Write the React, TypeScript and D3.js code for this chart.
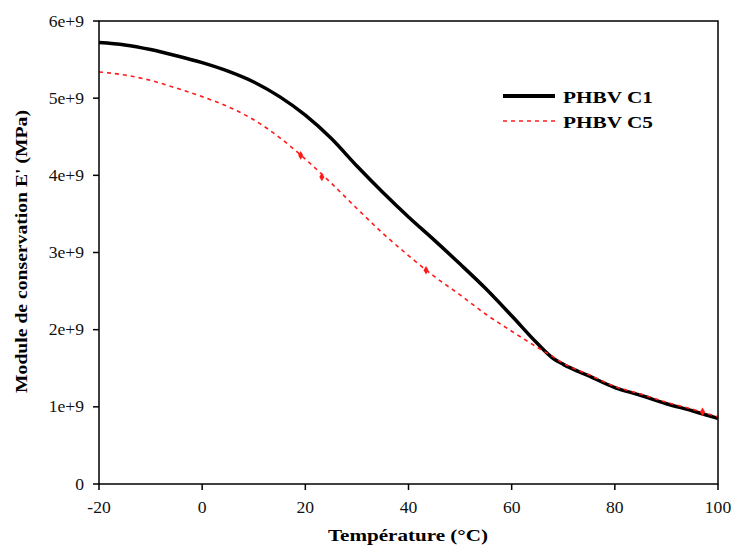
import React from "react";
import * as d3 from "d3";

const temps = [-20, -15, -10, -5, 0, 5, 10, 15, 20, 25, 30, 35, 40, 45, 50, 55, 60, 65, 68, 70, 75, 80, 85, 90, 95, 100];
const c1Values = [5.72, 5.69, 5.63, 5.55, 5.46, 5.35, 5.21, 5.02, 4.78, 4.48, 4.12, 3.78, 3.46, 3.16, 2.85, 2.53, 2.18, 1.82, 1.63, 1.55, 1.4, 1.25, 1.15, 1.04, 0.95, 0.85];
const c5Values = [5.34, 5.3, 5.23, 5.13, 5.02, 4.89, 4.72, 4.49, 4.21, 3.9, 3.57, 3.25, 2.96, 2.69, 2.45, 2.2, 1.98, 1.77, 1.65, 1.565, 1.415, 1.265, 1.165, 1.06, 0.97, 0.87];
const c5MarkerTemps = [19.1, 23.2, 43.4, 97];
const c5MarkerValues = [4.26, 3.98, 2.77, 0.935];
const xTicks = [-20, 0, 20, 40, 60, 80, 100];
const yTicks = [0, 1, 2, 3, 4, 5, 6];
const yTickLabels = ["0", "1e+9", "2e+9", "3e+9", "4e+9", "5e+9", "6e+9"];
const seriesNames = ["PHBV C1", "PHBV C5"];

export default function App() {
  const W = 731, H = 554;
  const x = d3.scaleLinear().domain([-20, 100]).range([99, 718]);
  const y = d3.scaleLinear().domain([0, 6]).range([484, 21]);
  const line = d3
    .line<number>()
    .x((_, i) => x(temps[i]))
    .curve(d3.curveMonotoneX);
  const p1 = line.y((v) => y(v))(c1Values) || "";
  const p5 = line.y((v) => y(v))(c5Values) || "";
  const diamond = d3.symbol().type(d3.symbolDiamond).size(22)() || "";
  const font = "'Liberation Serif', 'Times New Roman', serif";
  return (
    <svg width={W} height={H} style={{ position: "absolute", left: 0, top: 0, background: "#fff" }}>
      <rect x={0} y={0} width={W} height={H} fill="#fff" />
      <path d={p1} fill="none" stroke="#000" strokeWidth={3.5} strokeLinejoin="round" />
      <path d={p5} fill="none" stroke="#ff1a1a" strokeWidth={1.6} strokeDasharray="4,4" />
      {c5MarkerTemps.map((t, i) => (
        <path key={i} d={diamond} transform={`translate(${x(t)},${y(c5MarkerValues[i])})`} fill="#ff1a1a" />
      ))}
      <rect x={99} y={21} width={619} height={463} fill="none" stroke="#000" strokeWidth={1.5} />
      {xTicks.map((t) => (
        <g key={t}>
          <line x1={x(t)} x2={x(t)} y1={484} y2={490} stroke="#000" strokeWidth={1.5} />
          <text transform={`translate(${x(t)},513) scale(1.1,1)`} textAnchor="middle" fontFamily={font} fontSize={16} fill="#111">
            {t}
          </text>
        </g>
      ))}
      {yTicks.map((t, i) => (
        <g key={t}>
          <line x1={93} x2={99} y1={y(t)} y2={y(t)} stroke="#000" strokeWidth={1.5} />
          <text transform={`translate(84,${y(t) + 5.5}) scale(1.1,1)`} textAnchor="end" fontFamily={font} fontSize={16} fill="#111">
            {yTickLabels[i]}
          </text>
        </g>
      ))}
      <text x={408} y={541} textAnchor="middle" fontFamily={font} fontSize={16} fontWeight="bold" textLength={160} lengthAdjust="spacingAndGlyphs">
        Température (°C)
      </text>
      <text transform="translate(27,251.5) rotate(-90)" textAnchor="middle" fontFamily={font} fontSize={16} fontWeight="bold" textLength={283} lengthAdjust="spacingAndGlyphs">
        Module de conservation E' (MPa)
      </text>
      <line x1={503} x2={555} y1={96} y2={96} stroke="#000" strokeWidth={4} />
      <text x={563} y={103} fontFamily={font} fontSize={17} fontWeight="bold" textLength={90} lengthAdjust="spacingAndGlyphs">
        {seriesNames[0]}
      </text>
      <line x1={503} x2={555} y1={121} y2={121} stroke="#ff1a1a" strokeWidth={1.6} strokeDasharray="4,4" />
      <text x={563} y={128} fontFamily={font} fontSize={17} fontWeight="bold" textLength={90} lengthAdjust="spacingAndGlyphs">
        {seriesNames[1]}
      </text>
    </svg>
  );
}
